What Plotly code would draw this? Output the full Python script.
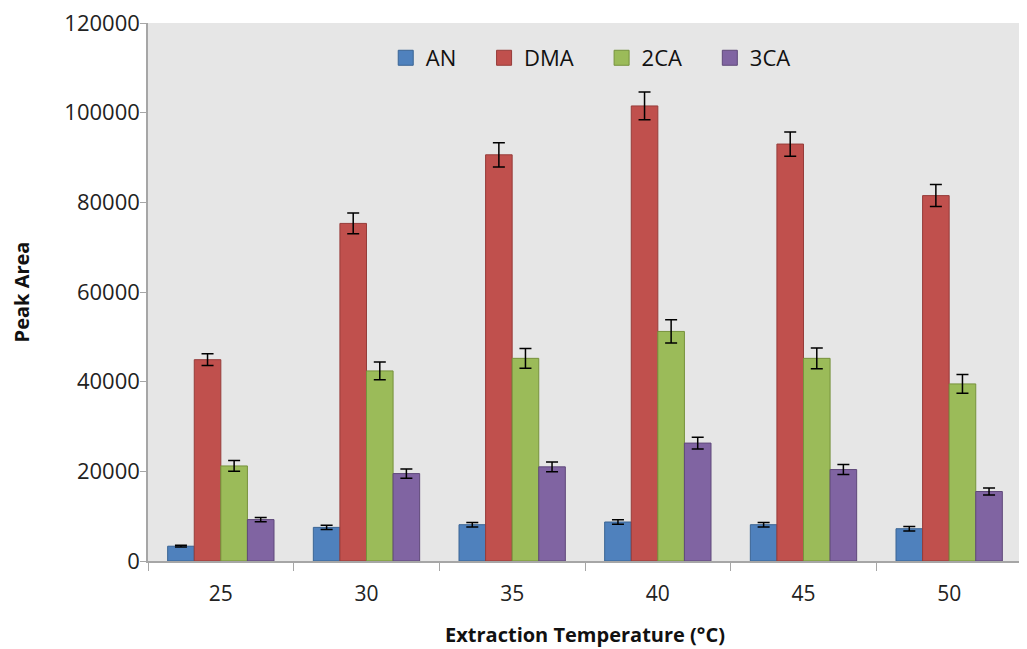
import plotly.graph_objects as go

temps = ["25", "30", "35", "40", "45", "50"]
series_names = ["AN", "DMA", "2CA", "3CA"]
an = [3300, 7500, 8100, 8700, 8100, 7200]
an_err = [200, 500, 500, 500, 500, 500]
dma = [44900, 75300, 90600, 101500, 93000, 81500]
dma_err = [1300, 2300, 2700, 3100, 2700, 2450]
ca2 = [21200, 42400, 45200, 51200, 45200, 39500]
ca2_err = [1200, 2000, 2200, 2600, 2300, 2100]
ca3 = [9240, 19500, 21000, 26300, 20400, 15500]
ca3_err = [480, 1040, 1100, 1300, 1100, 780]

values = [an, dma, ca2, ca3]
errors = [an_err, dma_err, ca2_err, ca3_err]
fills = ["#4F81BD", "#C0504D", "#9BBB59", "#8064A2"]
lines = ["#3A6494", "#963C3A", "#76923C", "#5F497A"]

fig = go.Figure()
for name, v, e, fc, lc in zip(series_names, values, errors, fills, lines):
    fig.add_trace(go.Bar(
        x=temps, y=v, name=name, showlegend=False, legendgroup=name,
        marker=dict(color=fc, line=dict(color=lc, width=1)),
        error_y=dict(type="data", array=e, visible=True, color="black",
                     thickness=1.5, width=6),
    ))
# legend-only entries with larger square swatches (non-breaking spaces widen the gaps)
pad = "\u00a0" * 4
for i, (name, fc, lc) in enumerate(zip(series_names, fills, lines)):
    label = name + (pad if i < len(series_names) - 1 else "")
    fig.add_trace(go.Scatter(
        x=[None], y=[None], mode="markers", name=label, legendgroup=name,
        marker=dict(symbol="square", size=15, color=fc, line=dict(color=lc, width=1)),
    ))

font_family = "Open Sans, DejaVu Sans, sans-serif"
fig.update_layout(
    width=1019, height=641,
    margin=dict(l=140, r=5, t=15, b=88),
    paper_bgcolor="white",
    plot_bgcolor="#E6E6E6",
    barmode="group",
    bargap=0.27,
    bargroupgap=0,
    font=dict(family=font_family, color="#222222", size=20),
    legend=dict(orientation="h", x=0.272, xanchor="left", y=0.935, yanchor="middle",
                bgcolor="rgba(0,0,0,0)", font=dict(size=22, color="#111111"),
                itemwidth=30, tracegroupgap=0),
    showlegend=True,
)
fig.update_xaxes(
    type="category", automargin=False,
    showline=True, linecolor="#A6A6A6", linewidth=1.5,
    ticks="outside", tickson="boundaries", ticklen=8, tickcolor="#A6A6A6",
    ticklabelstandoff=13,
    tickfont=dict(size=21, color="#222222"),
    title=dict(text="<b>Extraction Temperature (°C)</b>", font=dict(size=20, color="#111111"), standoff=22),
    showgrid=False,
)
fig.update_yaxes(
    range=[0, 120000], dtick=20000, tickformat="d", automargin=False,
    showline=True, linecolor="#A6A6A6", linewidth=1.5,
    ticks="outside", ticklen=6, tickcolor="#A6A6A6",
    ticklabelstandoff=-4, ticklabeloverflow="allow",
    tickfont=dict(size=22, color="#222222"),
    showgrid=False, zeroline=False,
    title=dict(text="<b>Peak Area</b>", font=dict(size=20, color="#111111"), standoff=34),
)
fig.write_html("out.html")
